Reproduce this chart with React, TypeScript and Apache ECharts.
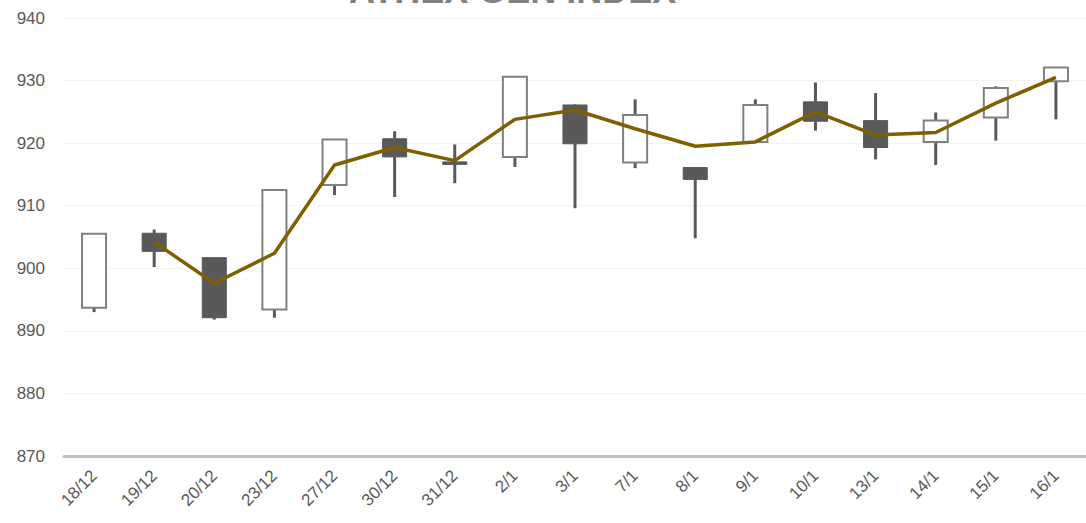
import React, { useEffect, useRef } from "react";
import * as echarts from "echarts";

const titleText = "ATHEX GEN INDEX";
const categories = ["18/12", "19/12", "20/12", "23/12", "27/12", "30/12", "31/12", "2/1", "3/1", "7/1", "8/1", "9/1", "10/1", "13/1", "14/1", "15/1", "16/1"];
const openValues = [893.7, 905.6, 901.7, 893.4, 913.3, 920.7, 917.0, 917.8, 926.1, 916.9, 916.1, 920.2, 926.6, 923.6, 920.2, 924.1, 929.9];
const closeValues = [905.5, 902.7, 892.1, 912.5, 920.6, 917.8, 916.6, 930.6, 919.9, 924.5, 914.2, 926.1, 923.5, 919.3, 923.6, 928.8, 932.1];
const lowValues = [893.0, 900.2, 891.8, 892.1, 911.7, 911.4, 913.6, 916.2, 909.6, 916.0, 904.8, 920.2, 922.0, 917.4, 916.5, 920.4, 923.8];
const highValues = [905.6, 906.2, 901.7, 912.5, 920.6, 921.9, 919.8, 930.7, 926.2, 927.0, 916.1, 927.0, 929.7, 928.0, 924.9, 929.1, 932.1];
const trendValues: (number | string)[] = ["-", 904.2, 897.6, 902.4, 916.5, 919.3, 917.2, 923.8, 925.3, 922.3, 919.5, 920.2, 925.0, 921.3, 921.7, 926.4, 930.5];

const FONT = "'Liberation Sans', Arial, sans-serif";

export default function App() {
  const ref = useRef<HTMLDivElement>(null);
  useEffect(() => {
    if (!ref.current) return;
    const chart = echarts.init(ref.current, null, { renderer: "svg" });
    const candleData = categories.map((_, i) => [i, openValues[i], closeValues[i], lowValues[i], highValues[i]]);
    chart.setOption({
      animation: false,
      backgroundColor: "#ffffff",
      graphic: [
        {
          type: "text",
          left: 349,
          top: -28,
          style: {
            text: titleText,
            fill: "#808080",
            font: `bold 36px ${FONT}`,
          },
        },
      ],
      grid: { left: 64, right: -1, top: 18, bottom: 67, containLabel: false },
      xAxis: {
        type: "category",
        data: categories,
        boundaryGap: true,
        axisLine: { show: true, lineStyle: { color: "#bfbfbf", width: 3 } },
        axisTick: { show: false },
        axisLabel: { rotate: 45, margin: 17, color: "#595959", fontSize: 17, fontFamily: FONT, interval: 0 },
        splitLine: { show: false },
      },
      yAxis: {
        type: "value",
        min: 870,
        max: 940,
        interval: 10,
        axisLine: { show: false },
        axisTick: { show: false },
        axisLabel: { color: "#595959", fontSize: 17, fontFamily: FONT, margin: 19 },
        splitLine: { show: true, lineStyle: { color: "#f2f2f2", width: 1 } },
      },
      series: [
        {
          type: "custom",
          name: "candles",
          data: candleData,
          encode: { x: 0, y: [1, 2, 3, 4] },
          clip: false,
          renderItem: (params: any, api: any) => {
            const i = api.value(0);
            const o = api.value(1);
            const c = api.value(2);
            const l = api.value(3);
            const h = api.value(4);
            const pO = api.coord([i, o]);
            const pC = api.coord([i, c]);
            const pL = api.coord([i, l]);
            const pH = api.coord([i, h]);
            const w = api.size([1, 0])[0] * 0.4;
            const up = c >= o;
            const top = Math.min(pO[1], pC[1]);
            const bottom = Math.max(pO[1], pC[1]);
            const x = pO[0];
            return {
              type: "group",
              children: [
                {
                  type: "line",
                  shape: { x1: x, y1: pH[1], x2: x, y2: top },
                  style: { stroke: "#595959", lineWidth: 3 },
                },
                {
                  type: "line",
                  shape: { x1: x, y1: bottom, x2: x, y2: pL[1] },
                  style: { stroke: "#595959", lineWidth: 3 },
                },
                {
                  type: "rect",
                  shape: { x: x - w / 2, y: top, width: w, height: Math.max(bottom - top, 1) },
                  style: up
                    ? { fill: "#ffffff", stroke: "#808080", lineWidth: 2 }
                    : { fill: "#595959", stroke: "#595959", lineWidth: 1 },
                },
              ],
            };
          },
          z: 2,
        },
        {
          type: "line",
          name: "trend",
          data: trendValues,
          showSymbol: false,
          symbol: "none",
          lineStyle: { color: "#7F6000", width: 3.5 },
          itemStyle: { color: "#7F6000" },
          z: 3,
        },
      ],
    });
    return () => chart.dispose();
  }, []);
  return <div ref={ref} style={{ position: "fixed", left: 0, top: 0, width: 1086, height: 523 }} />;
}
